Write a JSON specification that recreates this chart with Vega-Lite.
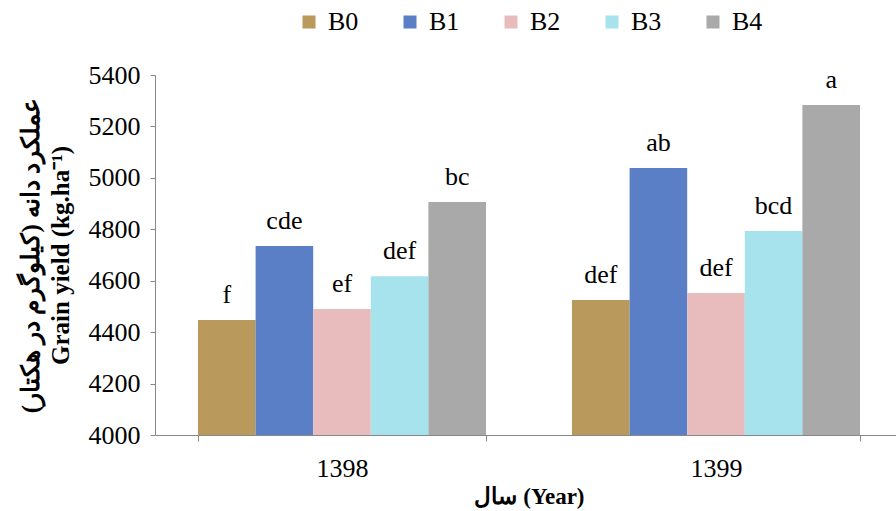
{
  "$schema": "https://vega.github.io/schema/vega-lite/v6.json",
  "autosize": "none",
  "width": 741,
  "height": 360,
  "padding": {"left": 155, "top": 75, "right": 0, "bottom": 76},
  "background": "white",
  "config": {
    "view": {"stroke": null},
    "font": "Liberation Serif",
    "axis": {"labelFont": "Liberation Serif", "titleFont": "Liberation Serif", "labelColor": "black", "titleColor": "black", "domainColor": "#888", "tickColor": "#888", "grid": false},
    "legend": {"labelFont": "Liberation Serif"}
  },
  "data": {
    "values": [
      {"year": "1398", "trt": "B0", "y": 4447, "lab": "f"},
      {"year": "1398", "trt": "B1", "y": 4735, "lab": "cde"},
      {"year": "1398", "trt": "B2", "y": 4490, "lab": "ef"},
      {"year": "1398", "trt": "B3", "y": 4617, "lab": "def"},
      {"year": "1398", "trt": "B4", "y": 4906, "lab": "bc"},
      {"year": "1399", "trt": "B0", "y": 4525, "lab": "def"},
      {"year": "1399", "trt": "B1", "y": 5038, "lab": "ab"},
      {"year": "1399", "trt": "B2", "y": 4552, "lab": "def"},
      {"year": "1399", "trt": "B3", "y": 4793, "lab": "bcd"},
      {"year": "1399", "trt": "B4", "y": 5283, "lab": "a"}
    ]
  },
  "encoding": {
    "x": {
      "field": "year", "type": "nominal",
      "scale": {"range": [0, 748], "paddingInner": 0.23, "paddingOuter": 0.115},
      "axis": {"title": "سال (Year)", "labelAngle": 0, "labelFontSize": 26, "titleFontSize": 23, "titleFontWeight": "bold", "tickBand": "extent", "tickSize": 6, "labelPadding": 14, "titlePadding": 4}
    },
    "xOffset": {"field": "trt", "type": "nominal", "scale": {"paddingInner": 0, "paddingOuter": 0}},
    "y": {
      "field": "y", "type": "quantitative",
      "scale": {"domain": [4000, 5400], "zero": false, "nice": false},
      "axis": {"values": [4000, 4200, 4400, 4600, 4800, 5000, 5200, 5400], "format": "d", "tickSize": 5, "labelFontSize": 26, "labelPadding": 10,
        "title": ["عملکرد دانه (کیلوگرم در هکتار)", "Grain yield (kg.ha⁻¹)"], "titleFontSize": 25, "titleFontWeight": "bold", "titlePadding": 15, "titleLineHeight": 30}
    }
  },
  "layer": [
    {
      "mark": {"type": "bar"},
      "encoding": {
        "y2": {"datum": 4000},
        "color": {
          "field": "trt", "type": "nominal",
          "scale": {"domain": ["B0", "B1", "B2", "B3", "B4"], "range": ["#b9995c", "#5b7fc6", "#e8bcbc", "#a6e3ec", "#a9a9a9"]},
          "legend": {"title": null, "orient": "none", "legendX": 141, "legendY": -66, "direction": "horizontal",
            "symbolType": "square", "symbolSize": 169, "symbolStrokeWidth": 0, "labelFontSize": 26, "labelFont": "Liberation Serif", "labelColor": "black", "columnPadding": 38, "labelOffset": 6}
        }
      }
    },
    {
      "mark": {"type": "text", "baseline": "alphabetic", "dy": -17, "fontSize": 26, "font": "Liberation Serif", "color": "black"},
      "encoding": {"text": {"field": "lab"}}
    }
  ]
}
